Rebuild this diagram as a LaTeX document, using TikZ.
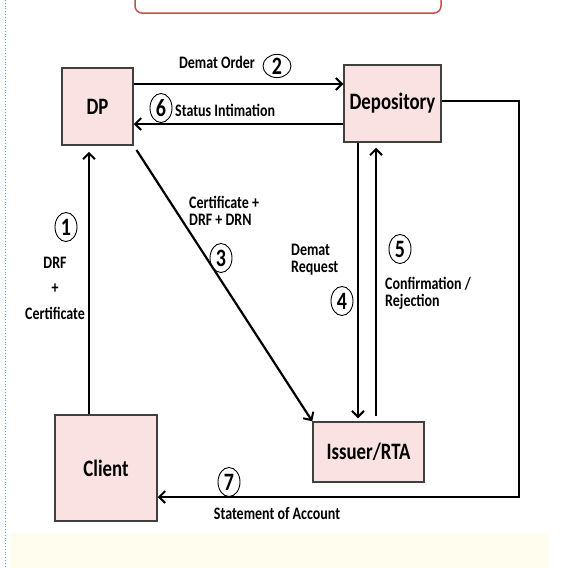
\documentclass[tikz,border=0pt]{standalone}
\usepackage{fontspec}
\setmainfont{Carlito}[FakeStretch=0.8]
\usetikzlibrary{arrows.meta,shapes.geometric}
\definecolor{boxpink}{RGB}{250,226,226}
\definecolor{boxline}{RGB}{64,64,64}
\definecolor{capred}{RGB}{192,80,77}
\definecolor{bandyellow}{RGB}{255,253,238}
\definecolor{guideblue}{RGB}{91,155,213}
\tikzset{
  party/.style={draw=boxline, fill=boxpink, line width=1.5pt, inner sep=0pt,
    font=\fontsize{23.5}{23.5}\selectfont\bfseries},
  link/.style={line width=2.2pt},
  flow/.style={link, -{Straight Barb[length=6pt,width=12pt,line width=2pt]}},
  tag/.style={inner sep=0pt, font=\fontsize{17.5}{17}\selectfont\bfseries},
  numtag/.style={draw, ellipse, line width=0.9pt, inner sep=0pt,
    minimum width=22pt, minimum height=29pt,
    font=\fontsize{25}{25}\selectfont\bfseries},
}
\begin{document}
\begin{tikzpicture}[x=1pt, y=-1pt]
    \useasboundingbox (0,0) rectangle (564,568);
    \clip (0,0) rectangle (564,568);

    % page decorations
    \draw [guideblue, dotted, line width=0.8pt] (5,0) -- (5,568);
    \draw [capred, line width=1.5pt, rounded corners=7pt] (135,-12) rectangle (441,13);
    \fill [bandyellow] (10,533) rectangle (549,568);

    % parties
    \node [party, minimum width=71pt, minimum height=77pt] (DP) at (97.5,106.5) {DP};
    \node [party, minimum width=97pt, minimum height=77pt] (Depository) at (392.5,103.5) {Depository};
    \node [party, minimum width=102pt, minimum height=106pt] (Client) at (106,468) {Client};
    \node [party, minimum width=111pt, minimum height=60pt] (Issuer) at (368.5,452) {Issuer/RTA};
    \coordinate (soa) at (519,497);

    % flows
    \draw [flow, shorten >=6pt] (Client.north -| 89,0) -- (DP.south -| 89,0);
    \draw [flow] (DP.east |- 0,84) -- (Depository.west |- 0,84);
    \draw [flow, shorten <=5pt] (DP.south east) -- (Issuer.north west);
    \draw [flow, shorten >=3pt] (Depository.south -| 358,0) -- (Issuer.north -| 358,0);
    \draw [flow, shorten <=5pt, shorten >=5pt] (Issuer.north -| 376,0) -- (Depository.south -| 376,0);
    \draw [flow] (Depository.west |- 0,124) -- (DP.east |- 0,124);
    \draw [flow] (Depository.east |- 0,101) -| (soa) -- (Client.east |- soa);

    % labels
    \node [numtag] (n1) at (66,227) {1};
    \node [tag, align=center, font=\fontsize{17.5}{25.5}\selectfont\bfseries] (l1) at (55,288) {DRF\\+\\Certificate};
    \node [tag] (l2) at (217,62) {Demat Order};
    \node [numtag, minimum width=28pt, minimum height=23pt] (n2) at (277,66) {2};
    \node [tag, align=left, anchor=west] (l3) at (189,211) {Certificate +\\DRF + DRN};
    \node [numtag] (n3) at (221,258) {3};
    \node [tag, align=left, anchor=west] (l4) at (291,260) {Demat\\Request};
    \node [numtag] (n4) at (342,301) {4};
    \node [numtag] (n5) at (400,249) {5};
    \node [tag, align=left, anchor=west] (l5) at (385,293) {Confirmation /\\Rejection};
    \node [numtag] (n6) at (161,108) {6};
    \node [tag, anchor=west] (l6) at (175,110) {Status Intimation};
    \node [numtag] (n7) at (229,482) {7};
    \node [tag] (l7) at (277,513) {Statement of Account};
\end{tikzpicture}
\end{document}
